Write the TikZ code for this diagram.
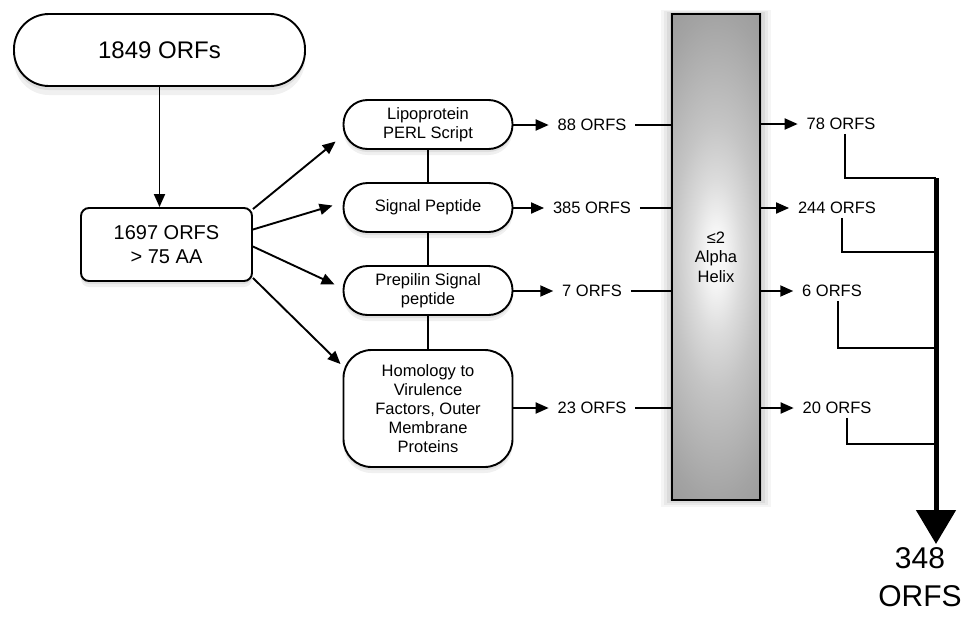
\documentclass[tikz,border=0pt]{standalone}
\usepackage{fontspec}
\setmainfont{Liberation Sans}
\usetikzlibrary{arrows.meta,shadows}
\pgfdeclareradialshading{helixshade}{\pgfpoint{0bp}{0bp}}{color(0bp)=(white!98!black); color(3bp)=(white!96!black); color(8bp)=(white!86!black); color(13.75bp)=(white!77!black); color(25bp)=(white!64!black); color(30bp)=(white!60!black)}

\begin{document}
\begin{tikzpicture}[
			x=1pt, y=-1pt,
			line width=1.9pt,
			>={Triangle[length=13pt,width=11pt]},
			soft/.style={drop shadow={shadow xshift=0pt,shadow yshift=-3pt,opacity=.15},
					drop shadow={shadow xshift=0pt,shadow yshift=-6pt,opacity=.12}},
			pill/.style={draw,fill=white,soft,rounded corners=24pt,minimum width=169pt,
					minimum height=49pt,align=center,inner sep=2pt,font=\fontsize{16.5}{19}\selectfont},
			count/.style={inner xsep=8pt,inner ysep=3pt,font=\fontsize{16.5}{19}\selectfont},
			helix/.style={draw,line width=1.4pt,minimum width=88pt,
					minimum height=486pt,align=center,font=\fontsize{16.5}{19.5}\selectfont}
		]
		\useasboundingbox (0,0) rectangle (963,616);

		% glow and shading of the bar
		\foreach \g/\o in {11/.04,8/.05,5/.06,2/.08}
			\fill[black,opacity=\o] (672-\g,14-\g/3) rectangle (760+\g,500+\g/1.5);
		\begin{scope}
			\clip (672,14) rectangle (760,500);
			\shade[shading=helixshade] (636,14) rectangle (796,500);
		\end{scope}

		\node[draw,fill=white,rounded corners=35pt,minimum width=291pt,minimum height=72pt,
			font=\fontsize{24}{28}\selectfont,
			drop shadow={shadow xshift=0pt,shadow yshift=-4pt,opacity=.15},
			drop shadow={shadow xshift=0pt,shadow yshift=-9pt,opacity=.12}] (start) at (159.5,50) {1849 ORFs};
		\node[draw,fill=white,soft,rounded corners=8pt,minimum width=171pt,minimum height=73pt,
			align=center,font=\fontsize{20}{23.5}\selectfont] (filt) at (166.5,244.5) {1697 ORFS\\> 75 AA};

		\node[pill] (lipo) at (428,124.5) {Lipoprotein\\PERL Script};
		\node[pill] (sig) at (428,207.5) {Signal Peptide};
		\node[pill] (pre) at (428,290.5) {Prepilin Signal\\peptide};
		\node[pill,rounded corners=28pt,minimum height=117pt] (hom) at (428,408.5)
			{Homology to\\Virulence\\Factors, Outer\\Membrane\\Proteins};

		\node[helix] (bar) at (716,257) {≤2\\Alpha\\Helix};

		\node[count] (l1) at (592,125) {88 ORFS};
		\node[count] (l2) at (592,208) {385 ORFS};
		\node[count] (l3) at (592,291) {7 ORFS};
		\node[count] (l4) at (592,408) {23 ORFS};

		\node[count] (r1) at (841,124) {78 ORFS};
		\node[count] (r2) at (837,208) {244 ORFS};
		\node[count] (r3) at (832,291) {6 ORFS};
		\node[count] (r4) at (837,408) {20 ORFS};

		\node[align=center,anchor=north,inner sep=0pt,font=\fontsize{30}{38}\selectfont] (total) at (920,547) {348\\ORFS};

		\coordinate (j1) at (936,178);
		\coordinate (j2) at (936,252);
		\coordinate (j3) at (936,348);
		\coordinate (j4) at (936,444);
		\coordinate (tip) at (936,544);

		\draw[->] (start) -- (start |- filt.north);
		\draw[->] ([yshift=-2pt]filt.north east) -- ([xshift=-7pt,yshift=-17pt]lipo.west);
		\draw[->] ([yshift=15pt]filt.east) -- ([xshift=-10pt,yshift=2pt]sig.west);
		\draw[->] ([yshift=-2pt]filt.east) -- ([xshift=-8pt,yshift=6pt]pre.west);
		\draw[->] ([yshift=4pt]filt.south east) -- ([xshift=-2pt,yshift=-15pt]hom.north west);

		\draw (lipo) -- (sig);
		\draw (sig) -- (pre);
		\draw (pre) -- (hom);

		\draw[->] (lipo.east |- l1) -- (l1.west);
		\draw[->] (sig.east |- l2) -- (l2.west);
		\draw[->] (pre.east |- l3) -- (l3.west);
		\draw[->] (hom.east |- l4) -- (l4.west);
		\foreach \n in {1,...,4}
			\draw (l\n.east) -- (l\n.east -| bar.west);
		\foreach \n in {1,...,4}
			\draw[->] (r\n.west -| bar.east) -- (r\n.west);

		\draw ([xshift=4pt]r1.south) |- (j1);
		\draw ([xshift=5pt]r2.south) |- (j2);
		\draw ([xshift=6pt]r3.south) |- (j3);
		\draw ([xshift=10pt]r4.south) |- (j4);
		\draw[line width=5pt,-{Triangle[length=34pt,width=39pt]}] (j1) -- (tip);
	\end{tikzpicture}
\end{document}
